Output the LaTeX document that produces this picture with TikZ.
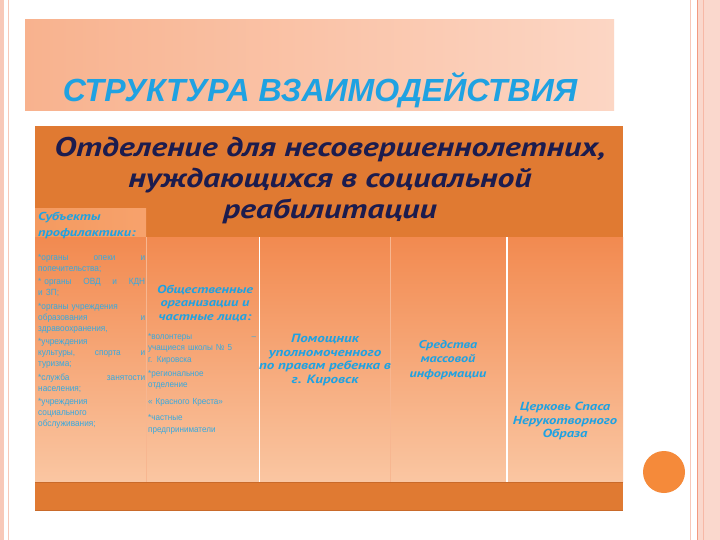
\documentclass[tikz,border=0pt]{standalone}
\usepackage{fontspec}
\setmainfont{Liberation Sans}
\newfontfamily\ptwide[FakeStretch=1.25]{PT Sans}
\newfontfamily\libnarrow[FakeStretch=0.92]{Liberation Sans}
\usetikzlibrary{shadings}
\definecolor{mainor}{HTML}{E07A32}
\definecolor{coltop}{HTML}{F28A50}
\definecolor{colbot}{HTML}{FAC6A2}
\definecolor{tblue}{HTML}{1FA2E2}
\definecolor{bblue}{HTML}{36A9DF}
\definecolor{navy}{HTML}{1C1C4E}
\definecolor{pinkb}{HTML}{F8C8B8}
\definecolor{pinkl}{HTML}{F39A80}
\definecolor{banl}{HTML}{F8B28E}
\definecolor{banr}{HTML}{FCD6C4}
\definecolor{headl}{HTML}{F49A60}
\definecolor{headr}{HTML}{F7A26C}
\definecolor{sepl}{HTML}{F7B690}
\definecolor{darkl}{HTML}{C96A2A}
\definecolor{circ}{HTML}{F58A3A}
\tikzset{
  colbox/.style={top color=coltop, bottom color=colbot, draw=none},
  titletext/.style={font=\fontsize{32}{34}\selectfont\bfseries\itshape, text=tblue, inner sep=0},
  headtext/.style={font=\ptwide\fontsize{27}{31}\selectfont\bfseries\itshape, text=navy, align=center, inner sep=0},
  subhead/.style={font=\ptwide\fontsize{11.5}{13.5}\selectfont\bfseries\itshape, text=tblue, align=center, inner sep=0},
  bodytext/.style={font=\libnarrow\fontsize{9}{11}\selectfont, text=bblue, align=left, inner sep=0, anchor=north west},
}
\begin{document}
\begin{tikzpicture}[x=1pt,y=-1pt]
\useasboundingbox (0,0) rectangle (720,540);
\fill[white] (0,0) rectangle (720,540);
% page borders
\fill[pinkb] (0,0) rectangle (4,540);
\draw[pinkb, line width=1pt] (8,0) -- (8,540);
\fill[pinkb!70] (698,0) rectangle (720,540);
\draw[pinkb, line width=1pt] (690,0) -- (690,540);
\draw[pinkl, line width=1pt] (697,0) -- (697,540);
\draw[pinkl!70, line width=0.8pt] (703,0) -- (703,540);
% title banner
\shade[left color=banl, right color=banr] (25,20) rectangle (614,111);
\node[titletext] (title) at (320,90) {СТРУКТУРА ВЗАИМОДЕЙСТВИЯ};
% main box
\fill[mainor] (35,126) rectangle (623,510);
% left column head box
\shade[left color=headl, right color=headr] (35,209) rectangle (146,237);
% columns
\shade[colbox] (35,237) rectangle (146,482);
\shade[colbox] (146,237) rectangle (259,482);
\shade[colbox] (259,237) rectangle (390,482);
\shade[colbox] (390,237) rectangle (506,482);
\shade[colbox] (506,237) rectangle (623,482);
\draw[white, line width=1pt] (259,237) -- (259,482);
\draw[white, line width=2pt] (507,237) -- (507,482);
\draw[sepl, line width=0.6pt] (146,237) -- (146,482);
\draw[sepl, line width=0.6pt] (390,237) -- (390,482);
\draw[darkl, line width=1pt] (35,482.5) -- (623,482.5);
\draw[darkl, line width=1pt] (35,510) -- (623,510);
% header text
\node[headtext] (head) at (330,181) {Отделение для несовершеннолетних,\\нуждающихся в социальной\\реабилитации};
% column 1
\node[subhead, font=\ptwide\fontsize{11.5}{16}\selectfont\bfseries\itshape, anchor=north west, align=left] (c1h) at (38,212) {Субъекты\\профилактики:};
\node[bodytext, text width=107pt] (c1) at (38,254) {%
*органы\hfill опеки\hfill и\\
попечительства;\\[2.5pt]
*\ органы\hfill ОВД\hfill и\hfill КДН\\
и ЗП;\\[2.5pt]
*органы учреждения\\
образования\hfill и\\
здравоохранения,\\[2.5pt]
*учреждения\\
культуры,\hfill спорта\hfill и\\
туризма;\\[2.5pt]
*служба\hfill занятости\\
населения;\\[2.5pt]
*учреждения\\
социального\\
обслуживания;};
% column 2
\node[subhead] (c2h) at (205,303) {Общественные\\организации и\\частные лица:};
\node[bodytext, font=\libnarrow\fontsize{8.8}{11.5}\selectfont, text width=108pt] (c2) at (148,333) {%
*волонтеры\hfill –\\
учащиеся школы № 5\\
г. Кировска\\[2.5pt]
*региональное\\
отделение\\[5.5pt]
« Красного Креста»\\[4.5pt]
*частные\\
предприниматели};
% column 3
\node[subhead, font=\ptwide\fontsize{12}{13.5}\selectfont\bfseries\itshape] (c3) at (325,360) {Помощник\\уполномоченного\\по правам ребенка в\\г. Кировск};
% column 4
\node[subhead, font=\ptwide\fontsize{11.3}{14.5}\selectfont\bfseries\itshape] (c4) at (448,360) {Средства\\массовой\\информации};
% column 5
\node[subhead, font=\ptwide\fontsize{11.7}{13.5}\selectfont\bfseries\itshape] (c5) at (565,421) {Церковь Спаса\\Нерукотворного\\Образа};
% circle
\fill[circ] (664,472) circle (21);
\end{tikzpicture}
\end{document}
